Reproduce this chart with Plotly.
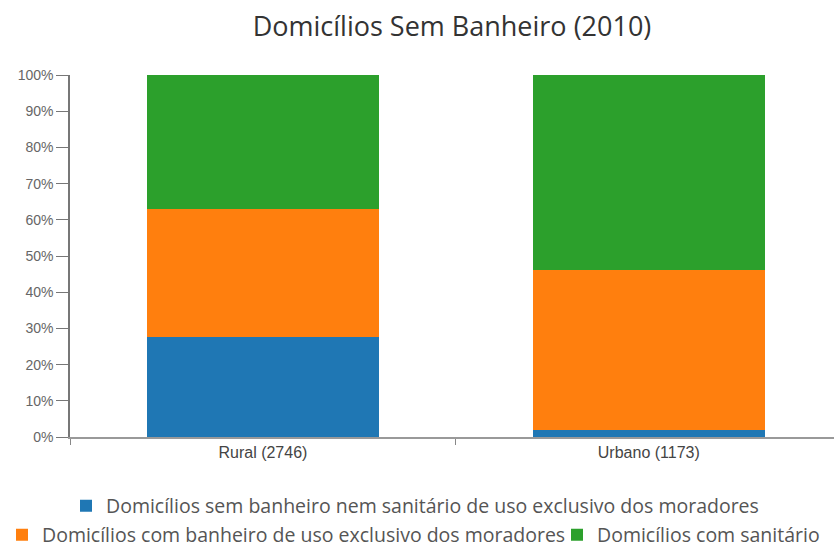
import plotly.graph_objects as go

categories = ["Rural (2746)", "Urbano (1173)"]
series_names = [
    "Domicílios sem banheiro nem sanitário de uso exclusivo dos moradores",
    "Domicílios com banheiro de uso exclusivo dos moradores",
    "Domicílios com sanitário",
]
sem_banheiro = [27.6, 2.0]
com_banheiro = [35.4, 44.1]
com_sanitario = [37.0, 53.9]
colors = ["#1f77b4", "#ff7f0e", "#2ca02c"]
y_ticks = [0, 10, 20, 30, 40, 50, 60, 70, 80, 90, 100]
legend_ids = ["legend", "legend2", "legend3"]

fig = go.Figure()
for i, (name, vals) in enumerate(zip(series_names, [sem_banheiro, com_banheiro, com_sanitario])):
    fig.add_trace(go.Bar(
        x=categories, y=vals, name=name,
        marker=dict(color=colors[i], line=dict(width=0)),
        width=0.6, showlegend=True,
        legend=legend_ids[i],
    ))

legend_font = dict(family="Open Sans, Noto Sans, sans-serif", size=19.5, color="#555555")
common_leg = dict(orientation="h", xref="container", yref="container", xanchor="left",
                  yanchor="middle", font=legend_font, bgcolor="rgba(0,0,0,0)")
fig.update_layout(
    barmode="stack",
    showlegend=True,
    width=834, height=547,
    margin=dict(l=70, r=0, t=75, b=110),
    paper_bgcolor="white", plot_bgcolor="white",
    title=dict(text="Domicílios Sem Banheiro (2010)", x=0.5, xref="paper", xanchor="center",
               y=1 - 27 / 547, yanchor="middle",
               font=dict(family="Open Sans, Noto Sans, sans-serif", size=27, color="#333333")),
    xaxis=dict(range=[-0.5, 1.48], tickson="boundaries", ticks="outside", ticklen=6,
               tickcolor="#888888", showline=True, linecolor="#999999", linewidth=1.5,
               tickfont=dict(family="Liberation Sans, Arial, sans-serif", size=16, color="#444444"),
               showgrid=False, zeroline=False, fixedrange=True),
    yaxis=dict(range=[0, 100], tickvals=y_ticks, ticktext=[f"{v}%" for v in y_ticks],
               ticks="outside", ticklen=12, tickcolor="#777777", showline=True,
               linecolor="#777777", linewidth=1.5, showgrid=False, zeroline=False,
               tickfont=dict(family="Liberation Sans, Arial, sans-serif", size=14, color="#666666")),
    legend=dict(common_leg, x=66 / 834, y=1 - 506 / 547),
    legend2=dict(common_leg, x=2 / 834, y=1 - 535 / 547),
    legend3=dict(common_leg, x=557 / 834, y=1 - 535 / 547),
)

fig.write_html("out.html")
